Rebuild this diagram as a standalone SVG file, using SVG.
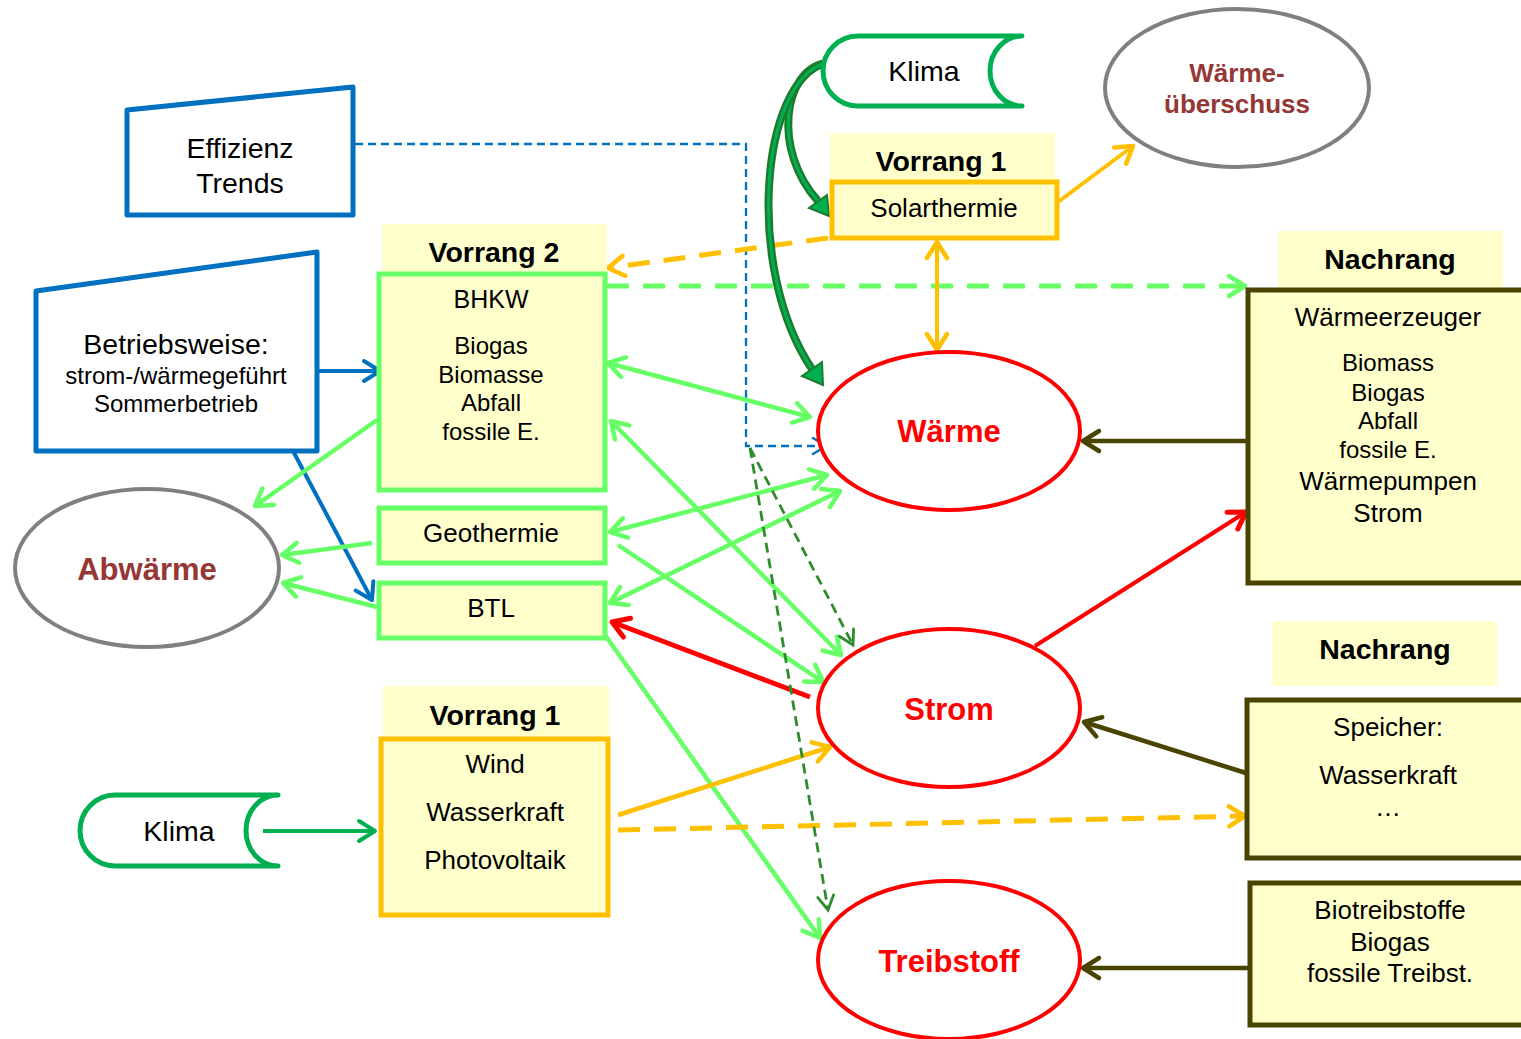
<svg xmlns="http://www.w3.org/2000/svg" width="1521" height="1039" viewBox="0 0 1521 1039">
<style>
text{font-family:"Liberation Sans",Arial,sans-serif;text-anchor:middle;fill:#000}
.b{font-weight:bold}
.lab{fill:#FFFFCC;stroke:none}
.box{fill:#FFFFCC;stroke-width:5}
.yb{stroke:#FFC000}
.gb{stroke:#66FF66}
.ob{stroke:#494400}
.ell{fill:#fff;stroke-width:4}
.red{fill:#FF0000}
.brn{fill:#953735}
.gl{stroke:#66FF66;stroke-width:4.5}
</style>
<defs>
<marker id="mG" markerUnits="userSpaceOnUse" viewBox="-20 -15 24 30" refX="0" refY="0" markerWidth="24" markerHeight="30" orient="auto-start-reverse"><path d="M-16,-10 L0,0 L-16,10" fill="none" stroke="#66FF66" stroke-width="4.5" stroke-linecap="round" stroke-linejoin="round"/></marker>
<marker id="mY" markerUnits="userSpaceOnUse" viewBox="-20 -15 24 30" refX="0" refY="0" markerWidth="24" markerHeight="30" orient="auto-start-reverse"><path d="M-16,-10 L0,0 L-16,10" fill="none" stroke="#FFC000" stroke-width="4.5" stroke-linecap="round" stroke-linejoin="round"/></marker>
<marker id="mB" markerUnits="userSpaceOnUse" viewBox="-20 -15 24 30" refX="0" refY="0" markerWidth="24" markerHeight="30" orient="auto"><path d="M-16,-10 L0,0 L-16,10" fill="none" stroke="#0070C0" stroke-width="4" stroke-linecap="round" stroke-linejoin="round"/></marker>
<marker id="mBs" markerUnits="userSpaceOnUse" viewBox="-20 -15 24 30" refX="0" refY="0" markerWidth="24" markerHeight="30" orient="auto"><path d="M-13,-8 L0,0 L-13,8" fill="none" stroke="#0070C0" stroke-width="2.5" stroke-linecap="round"/></marker>
<marker id="mR" markerUnits="userSpaceOnUse" viewBox="-20 -15 24 30" refX="0" refY="0" markerWidth="24" markerHeight="30" orient="auto"><path d="M-16,-10 L0,0 L-16,10" fill="none" stroke="#FF0000" stroke-width="5" stroke-linecap="round" stroke-linejoin="round"/></marker>
<marker id="mO" markerUnits="userSpaceOnUse" viewBox="-20 -15 24 30" refX="0" refY="0" markerWidth="24" markerHeight="30" orient="auto"><path d="M-16,-10 L0,0 L-16,10" fill="none" stroke="#494400" stroke-width="4.5" stroke-linecap="round" stroke-linejoin="round"/></marker>
<marker id="mK" markerUnits="userSpaceOnUse" viewBox="-20 -15 24 30" refX="0" refY="0" markerWidth="24" markerHeight="30" orient="auto"><path d="M-16,-10 L0,0 L-16,10" fill="none" stroke="#00B050" stroke-width="4" stroke-linecap="round" stroke-linejoin="round"/></marker>
<marker id="mD" markerUnits="userSpaceOnUse" viewBox="-20 -15 24 30" refX="0" refY="0" markerWidth="24" markerHeight="30" orient="auto"><path d="M-14,-8 L0,0 L-14,8" fill="none" stroke="#2E8B2E" stroke-width="2.8" stroke-linecap="round"/></marker>
</defs>

<g id="connectors" fill="none">
<path d="M355,144 H746 V446 H826" stroke="#0070C0" stroke-width="2.3" stroke-dasharray="8 5" marker-end="url(#mBs)"/>
<path d="M318,371 H380" stroke="#0070C0" stroke-width="4" marker-end="url(#mB)"/>
<path d="M293,451 L372,600" stroke="#0070C0" stroke-width="4" marker-end="url(#mB)"/>
<path d="M828,238 L608,268" stroke="#FFC000" stroke-width="5" stroke-dasharray="22 14" marker-end="url(#mY)"/>
<path d="M607,286 H1245" stroke="#66FF66" stroke-width="5" stroke-dasharray="22 14" marker-end="url(#mG)"/>
<path d="M937,242 V350" stroke="#FFC000" stroke-width="4" marker-start="url(#mY)" marker-end="url(#mY)"/>
<path d="M1058,202 L1133,146" stroke="#FFC000" stroke-width="4" marker-end="url(#mY)"/>
<path class="gl" d="M608,363 L810,417" marker-start="url(#mG)" marker-end="url(#mG)"/>
<path class="gl" d="M611,421 L841,655" marker-start="url(#mG)" marker-end="url(#mG)"/>
<path class="gl" d="M377,420 L255,506" marker-end="url(#mG)"/>
<path class="gl" d="M610,532 L827,475" marker-start="url(#mG)" marker-end="url(#mG)"/>
<path class="gl" d="M618,545 L823,682" marker-end="url(#mG)"/>
<path class="gl" d="M610,603 L840,491" marker-start="url(#mG)" marker-end="url(#mG)"/>
<path class="gl" d="M605,635 L820,938" marker-end="url(#mG)"/>
<path class="gl" d="M372,543 L282,555" marker-end="url(#mG)"/>
<path class="gl" d="M377,607 L283,583" marker-end="url(#mG)"/>
<path d="M810,697 L612,622" stroke="#FF0000" stroke-width="5" marker-end="url(#mR)"/>
<path d="M1035,646 L1246,512" stroke="#FF0000" stroke-width="4" marker-end="url(#mR)"/>
<path d="M1247,441 H1083" stroke="#494400" stroke-width="4.5" marker-end="url(#mO)"/>
<path d="M1246,773 L1084,722" stroke="#494400" stroke-width="4.5" marker-end="url(#mO)"/>
<path d="M1249,968 H1083" stroke="#494400" stroke-width="4.5" marker-end="url(#mO)"/>
<path d="M618,815 L830,747" stroke="#FFC000" stroke-width="4.5" marker-end="url(#mY)"/>
<path d="M618,830 L1245,816" stroke="#FFC000" stroke-width="5" stroke-dasharray="22 14" marker-end="url(#mY)"/>
<path d="M263,831 H375" stroke="#00B050" stroke-width="4" marker-end="url(#mK)"/>
<path d="M750,448 L853,645" stroke="#2E8B2E" stroke-width="2.8" stroke-dasharray="10 6" marker-end="url(#mD)"/>
<path d="M750,448 L828,910" stroke="#2E8B2E" stroke-width="2.8" stroke-dasharray="10 6" marker-end="url(#mD)"/>
<path d="M826,63 C783,70 772,150 818,201" stroke="#1E7B2E" stroke-width="8"/>
<path d="M826,63 C783,70 772,150 818,201" stroke="#00B050" stroke-width="3"/>
<polygon points="829,216 809,208 827,195" fill="#00B050" stroke="#1E7B2E" stroke-width="2"/>
<path d="M826,63 C760,80 745,270 812,369" stroke="#1E7B2E" stroke-width="8"/>
<path d="M826,63 C760,80 745,270 812,369" stroke="#00B050" stroke-width="3"/>
<polygon points="823,385 802,376 822,362" fill="#00B050" stroke="#1E7B2E" stroke-width="2"/>
</g>

<g id="klima-top">
<path d="M1022,36 H858 A35,35 0 0 0 858,106 H1022 A32,35 0 0 1 1022,36 Z" fill="#fff" stroke="#00B050" stroke-width="5" stroke-linejoin="round"/>
<text x="924" y="81" font-size="28.5">Klima</text>
</g>
<g id="solarthermie">
<rect class="lab" x="830" y="133" width="225" height="49"/>
<text class="b" x="941" y="171" font-size="28.5">Vorrang 1</text>
<rect class="box yb" x="832" y="182" width="225" height="56"/>
<text x="944" y="217" font-size="26">Solarthermie</text>
</g>
<g id="waermeueberschuss">
<ellipse class="ell" cx="1237" cy="88" rx="132" ry="79" stroke="#808080"/>
<text class="b brn" x="1237" y="82" font-size="26">Wärme-</text>
<text class="b brn" x="1237" y="113" font-size="26">überschuss</text>
</g>
<g id="effizienz">
<path d="M127,110 L353,87 L353,215 L127,215 Z" fill="#fff" stroke="#0070C0" stroke-width="5" stroke-linejoin="round"/>
<text x="240" y="158" font-size="28.5">Effizienz</text>
<text x="240" y="193" font-size="28.5">Trends</text>
</g>
<g id="betriebsweise">
<path d="M36,291 L317,252 L317,451 L36,451 Z" fill="#fff" stroke="#0070C0" stroke-width="5" stroke-linejoin="round"/>
<text x="176" y="354" font-size="28.5">Betriebsweise:</text>
<text x="176" y="384" font-size="24">strom-/wärmegeführt</text>
<text x="176" y="412" font-size="24">Sommerbetrieb</text>
</g>
<g id="bhkw">
<rect class="lab" x="382" y="224" width="225" height="49"/>
<text class="b" x="494" y="262" font-size="28.5">Vorrang 2</text>
<rect class="box gb" x="379" y="274" width="226" height="216"/>
<text x="491" y="308" font-size="25">BHKW</text>
<text x="491" y="354" font-size="24">Biogas</text>
<text x="491" y="383" font-size="24">Biomasse</text>
<text x="491" y="411" font-size="24">Abfall</text>
<text x="491" y="440" font-size="24">fossile E.</text>
</g>
<g id="geothermie">
<rect class="box gb" x="379" y="508" width="226" height="55"/>
<text x="491" y="542" font-size="26">Geothermie</text>
</g>
<g id="btl">
<rect class="box gb" x="379" y="583" width="226" height="55"/>
<text x="491" y="617" font-size="26">BTL</text>
</g>
<g id="abwaerme">
<ellipse class="ell" cx="147" cy="568" rx="132" ry="79" stroke="#808080"/>
<text class="b brn" x="147" y="580" font-size="31">Abwärme</text>
</g>
<g id="vorrang1-strom">
<rect class="lab" x="383" y="686" width="226" height="51"/>
<text class="b" x="495" y="725" font-size="28.5">Vorrang 1</text>
<rect class="box yb" x="381" y="739" width="227" height="176"/>
<text x="495" y="773" font-size="26">Wind</text>
<text x="495" y="821" font-size="26">Wasserkraft</text>
<text x="495" y="869" font-size="26">Photovoltaik</text>
</g>
<g id="klima-bottom">
<path d="M278,795 H115 A35,35.5 0 0 0 115,866 H278 A32,35.5 0 0 1 278,795 Z" fill="#fff" stroke="#00B050" stroke-width="5" stroke-linejoin="round"/>
<text x="179" y="841" font-size="28.5">Klima</text>
</g>
<g id="waerme">
<ellipse class="ell" cx="949" cy="431" rx="131" ry="79" stroke="#FF0000"/>
<text class="b red" x="949" y="442" font-size="31">Wärme</text>
</g>
<g id="strom">
<ellipse class="ell" cx="949" cy="708" rx="131" ry="79" stroke="#FF0000"/>
<text class="b red" x="949" y="720" font-size="31">Strom</text>
</g>
<g id="treibstoff">
<ellipse class="ell" cx="949" cy="960" rx="131" ry="79" stroke="#FF0000"/>
<text class="b red" x="949" y="972" font-size="31">Treibstoff</text>
</g>
<g id="nachrang-waerme">
<rect class="lab" x="1278" y="231" width="225" height="57"/>
<text class="b" x="1390" y="269" font-size="28.5">Nachrang</text>
<rect class="box ob" x="1248" y="290" width="280" height="293"/>
<text x="1388" y="326" font-size="26">Wärmeerzeuger</text>
<text x="1388" y="371" font-size="24">Biomass</text>
<text x="1388" y="401" font-size="24">Biogas</text>
<text x="1388" y="429" font-size="24">Abfall</text>
<text x="1388" y="458" font-size="24">fossile E.</text>
<text x="1388" y="490" font-size="26">Wärmepumpen</text>
<text x="1388" y="522" font-size="26">Strom</text>
</g>
<g id="nachrang-strom">
<rect class="lab" x="1272" y="621" width="225" height="65"/>
<text class="b" x="1385" y="659" font-size="28.5">Nachrang</text>
<rect class="box ob" x="1247" y="700" width="281" height="158"/>
<text x="1388" y="736" font-size="26">Speicher:</text>
<text x="1388" y="784" font-size="26">Wasserkraft</text>
<text x="1388" y="816" font-size="26">…</text>
</g>
<g id="nachrang-treibstoff">
<rect class="box ob" x="1250" y="883" width="278" height="142"/>
<text x="1390" y="919" font-size="26">Biotreibstoffe</text>
<text x="1390" y="951" font-size="26">Biogas</text>
<text x="1390" y="982" font-size="26">fossile Treibst.</text>
</g>
</svg>
